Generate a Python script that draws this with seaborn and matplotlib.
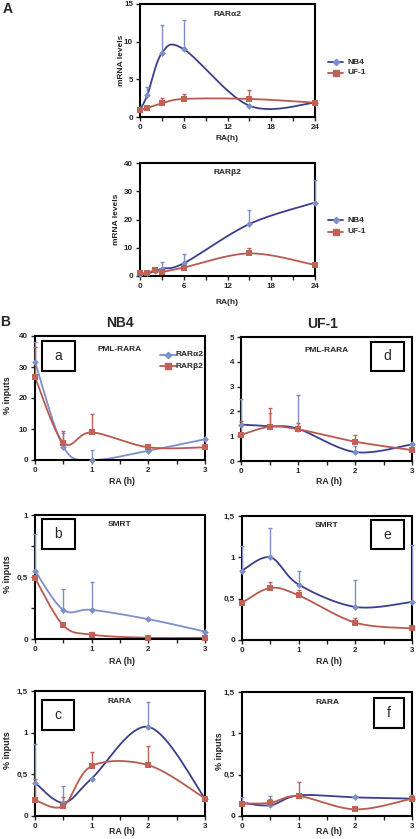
import numpy as np
import pandas as pd
import matplotlib
matplotlib.use("Agg")
import matplotlib.pyplot as plt
import seaborn as sns
from matplotlib.lines import Line2D
from matplotlib.patches import Rectangle

sns.set_style("ticks")
plt.rcParams['font.family'] = ['Liberation Sans', 'DejaVu Sans']

# ---------------- data ----------------
A_time = [0, 1, 3, 6, 15, 24]
A1_nb4 = [1.0, 2.9, 8.5, 9.0, 1.5, 1.9]
A1_nb4_err = [0, 1.1, 3.7, 3.9, 0, 0]
A1_uf1 = [0.9, 1.2, 1.8, 2.4, 2.4, 1.9]
A1_uf1_err = [0, 0, 0.7, 0.7, 1.2, 0]

A2_time = [0, 1, 2, 3, 6, 15, 24]
A2_nb4 = [0.6, 1.0, 1.6, 2.6, 4.5, 18.4, 26.0]
A2_nb4_err = [0, 0, 0, 2.2, 3.3, 5.1, 8.0]
A2_uf1 = [1.0, 1.0, 2.1, 1.5, 3.0, 8.0, 3.9]
A2_uf1_err = [0, 0, 0, 0, 0, 1.8, 1.2]

B_time = [0, 0.5, 1, 2, 3]
a_ra2 = [31.7, 4.3, 0.0, 3.0, 6.7]
a_ra2_err = [6.3, 4.3, 3.3, 0, 0]
a_rb2 = [26.7, 5.6, 8.9, 4.1, 4.1]
a_rb2_err = [9.8, 3.6, 6.1, 0, 0]

d_ra2 = [1.47, 1.40, 1.30, 0.36, 0.67]
d_ra2_err = [1.03, 0.55, 1.35, 0.25, 0]
d_rb2 = [1.05, 1.38, 1.28, 0.78, 0.44]
d_rb2_err = [0.55, 0.77, 0.27, 0.27, 0]

b_ra2 = [0.55, 0.235, 0.235, 0.16, 0.06]
b_ra2_err = [0.30, 0.165, 0.225, 0, 0]
b_rb2 = [0.49, 0.11, 0.035, 0.01, 0.01]
b_rb2_err = [0, 0, 0.02, 0, 0]

e_ra2 = [0.84, 1.0, 0.67, 0.40, 0.46]
e_ra2_err = [0.30, 0.36, 0.16, 0.32, 0.69]
e_rb2 = [0.45, 0.63, 0.54, 0.21, 0.14]
e_rb2_err = [0, 0.07, 0.06, 0.06, 0]

c_ra2 = [0.40, 0.16, 0.45, 1.07, 0.21]
c_ra2_err = [0.47, 0.20, 0, 0.30, 0]
c_rb2 = [0.19, 0.12, 0.60, 0.61, 0.21]
c_rb2_err = [0.25, 0.11, 0.17, 0.23, 0]

f_ra2 = [0.16, 0.13, 0.25, 0.225, 0.21]
f_ra2_err = [0.07, 0.11, 0, 0, 0.05]
f_rb2 = [0.15, 0.16, 0.24, 0.08, 0.21]
f_rb2_err = [0, 0.04, 0.17, 0, 0]

NAVY = "#3a3f8e"
LIGHT = "#7d8fc9"
RED = "#b85a4f"
REDM = "#bf6357"

W, H = 416, 839
fig = plt.figure(figsize=(W / 100, H / 100), dpi=100)


def add_ax(l, t, r, b):
    return fig.add_axes([l / W, 1 - b / H, (r - l) / W, (b - t) / H])


def smooth(x, y, n=40):
    P = np.column_stack([np.asarray(x, float), np.asarray(y, float)])
    Pp = np.vstack([P[0], P, P[-1]])
    out = []
    for i in range(len(P) - 1):
        p0, p1, p2, p3 = Pp[i], Pp[i + 1], Pp[i + 2], Pp[i + 3]
        c1 = p1 + (p2 - p0) / 6
        c2 = p2 - (p3 - p1) / 6
        t = np.linspace(0, 1, n)[:, None]
        seg = (1 - t) ** 3 * p1 + 3 * (1 - t) ** 2 * t * c1 + 3 * (1 - t) * t ** 2 * c2 + t ** 3 * p2
        out.append(seg if i == 0 else seg[1:])
    return np.vstack(out)


def series(ax, x, y, err, line_c, mk_c, marker, ms):
    cur = smooth(x, y)
    df = pd.DataFrame({'x': cur[:, 0], 'y': cur[:, 1]})
    sns.lineplot(data=df, x='x', y='y', ax=ax, color=line_c, lw=1.3,
                 sort=False, estimator=None)
    x = np.asarray(x, float); y = np.asarray(y, float); err = np.asarray(err, float)
    m = err > 0
    if m.any():
        ax.errorbar(x[m], y[m], yerr=[np.zeros(m.sum()), err[m]], fmt='none',
                    ecolor=mk_c, elinewidth=1.0, capsize=1.6, capthick=1.0,
                    clip_on=False, zorder=4)
    pts = pd.DataFrame({'x': x, 'y': y})
    sns.scatterplot(data=pts, x='x', y='y', ax=ax, marker=marker, s=ms,
                    color=mk_c, edgecolor=mk_c, linewidth=0, zorder=5,
                    clip_on=False)
    ax.set_xlabel('')
    ax.set_ylabel('')


def style(ax, xlim, ylim, xticks, xminor, yticks, ylabels):
    ax.set_xlim(*xlim)
    ax.set_ylim(*ylim)
    ax.set_xticks(xticks)
    ax.set_xticks(xminor, minor=True)
    ax.set_xticklabels([str(v) for v in xticks], fontsize=5.8, fontweight='bold')
    ax.set_yticks(yticks)
    ax.set_yticklabels(ylabels, fontsize=5.8, fontweight='bold')
    for s in ax.spines.values():
        s.set_visible(True)
        s.set_linewidth(1.5)
        s.set_color('black')
    ax.tick_params(axis='both', which='major', direction='out', length=3, width=1, pad=2)
    ax.tick_params(axis='x', which='minor', direction='out', length=3, width=1)


def ptitle(ax, txt, y):
    ax.text(0.5, y, txt, transform=ax.transAxes, ha='center', va='center',
            fontsize=6, fontweight='bold')


def letter_box(ax, x0, x1, y0, y1, txt):
    ax.add_patch(Rectangle((x0, y0), x1 - x0, y1 - y0, transform=ax.transAxes,
                           fill=False, lw=1.5, ec='black', zorder=6))
    ax.text((x0 + x1) / 2, (y0 + y1) / 2, txt, transform=ax.transAxes,
            ha='center', va='center', fontsize=10, zorder=7)


# ---------------- Panel A ----------------
axA1 = add_ax(140, 4, 315, 117)
series(axA1, A_time, A1_nb4, A1_nb4_err, NAVY, LIGHT, 'D', 12)
series(axA1, A_time, A1_uf1, A1_uf1_err, RED, REDM, 's', 22)
style(axA1, (0, 24), (0, 15), [0, 6, 12, 18, 24], [3, 9, 15, 21], [0, 5, 10, 15],
      ['0', '5', '10', '15'])
ptitle(axA1, 'RARα2', 0.91)

axA2 = add_ax(140, 163, 315, 276)
series(axA2, A2_time, A2_nb4, A2_nb4_err, NAVY, LIGHT, 'D', 12)
series(axA2, A2_time, A2_uf1, A2_uf1_err, RED, REDM, 's', 22)
style(axA2, (0, 24), (0, 40), [0, 6, 12, 18, 24], [3, 9, 15, 21], [0, 10, 20, 30, 40],
      ['0', '10', '20', '30', '40'])
ptitle(axA2, 'RARβ2', 0.92)

fig.text(121 / W, 1 - 60.5 / H, 'mRNA levels', rotation=90, ha='center', va='center',
         fontsize=6, fontweight='bold')
fig.text(117 / W, 1 - 219.5 / H, 'mRNA levels', rotation=90, ha='center', va='center',
         fontsize=6, fontweight='bold')
fig.text(227 / W, 1 - 138 / H, 'RA(h)', ha='center', va='center', fontsize=6, fontweight='bold')
fig.text(227 / W, 1 - 303 / H, 'RA(h)', ha='center', va='center', fontsize=6, fontweight='bold')


def legA(y_nb4, y_uf1):
    for yy, col, mc, mk, ms, lab in [(y_nb4, NAVY, LIGHT, 'D', 3.2, 'NB4'),
                                     (y_uf1, RED, REDM, 's', 4.5, 'UF-1')]:
        fig.add_artist(Line2D([328 / W, 343 / W], [1 - yy / H, 1 - yy / H], color=col, lw=1.3))
        fig.add_artist(Line2D([335.5 / W], [1 - yy / H], marker=mk, ms=ms, color=mc, mec=mc, lw=0))
        fig.text(347 / W, 1 - yy / H, lab, ha='left', va='center', fontsize=6, fontweight='bold')


legA(62, 72.5)
legA(220, 231.5)

fig.text(8 / W, 1 - 9 / H, 'A', ha='center', va='center', fontsize=10, fontweight='bold')
fig.text(5 / W, 1 - 322 / H, 'B', ha='center', va='center', fontsize=10, fontweight='bold')
fig.text(120 / W, 1 - 323 / H, 'NB4', ha='center', va='center', fontsize=10, fontweight='bold')
fig.text(323 / W, 1 - 324 / H, 'UF-1', ha='center', va='center', fontsize=10, fontweight='bold')

# ---------------- Panel B ----------------
bx = [0, 1, 2, 3]
bminor = [0.5, 1.5, 2.5]
specs = [
    ('a', (35, 336, 205, 460), a_ra2, a_ra2_err, a_rb2, a_rb2_err, LIGHT, (0, 40),
     [0, 10, 20, 30, 40], ['0', '10', '20', '30', '40'], 'PML-RARA', 0.895,
     (0.041, 0.235, 0.718, 0.96), 481.5),
    ('d', (241, 337, 412, 461), d_ra2, d_ra2_err, d_rb2, d_rb2_err, NAVY, (0, 5),
     [0, 1, 2, 3, 4, 5], ['0', '1', '2', '3', '4', '5'], 'PML-RARA', 0.895,
     (0.76, 0.953, 0.726, 0.96), 482),
    ('b', (35, 515, 205, 639), b_ra2, b_ra2_err, b_rb2, b_rb2_err, LIGHT, (0, 1),
     [0, 0.25, 0.5, 0.75, 1], ['0', '', '0,5', '', '1'], 'SMRT', 0.92,
     (0.041, 0.235, 0.726, 0.968), 661.5),
    ('e', (242, 516, 412, 640), e_ra2, e_ra2_err, e_rb2, e_rb2_err, NAVY, (0, 1.5),
     [0, 0.5, 1, 1.5], ['0', '0,5', '1', '1,5'], 'SMRT', 0.92,
     (0.76, 0.953, 0.73, 0.968), 662),
    ('c', (35, 691, 205, 816), c_ra2, c_ra2_err, c_rb2, c_rb2_err, NAVY, (0, 1.5),
     [0, 0.5, 1, 1.5], ['0', '0,5', '1', '1,5'], 'RARA', 0.915,
     (0.041, 0.229, 0.69, 0.93), 832),
    ('f', (242, 692, 412, 816), f_ra2, f_ra2_err, f_rb2, f_rb2_err, NAVY, (0, 1.5),
     [0, 0.5, 1, 1.5], ['0', '0,5', '1', '1,5'], 'RARA', 0.915,
     (0.776, 0.953, 0.71, 0.95), 832),
]

axes = {}
for (name, (l, t, r, b), ra2, ra2e, rb2, rb2e, bl, ylim, yt, yl, ttl, ty, lb, xly) in specs:
    ax = add_ax(l, t, r, b)
    axes[name] = ax
    series(ax, B_time, ra2, ra2e, bl, LIGHT, 'D', 12)
    series(ax, B_time, rb2, rb2e, RED, REDM, 's', 22)
    style(ax, (0, 3), ylim, bx, bminor, yt, yl)
    ptitle(ax, ttl, ty)
    letter_box(ax, lb[0], lb[1], lb[2], lb[3], name)
    fig.text((l + r) / 2 / W + 0.006, 1 - xly / H, 'RA (h)', ha='center', va='center',
             fontsize=6.3, fontweight='bold')

for name in ['a', 'b', 'c']:
    ax = axes[name]
    pos = ax.get_position()
    fig.text(7 / W, pos.y0 + pos.height / 2 + 0.004, '% inputs', rotation=90,
             ha='center', va='center', fontsize=6.5, fontweight='bold')
posf = axes['f'].get_position()
fig.text(220 / W, posf.y0 + posf.height / 2 + 0.004, '% inputs', rotation=90,
         ha='center', va='center', fontsize=6.5, fontweight='bold')

# legend in panel a
for yy, col, mc, mk, ms, lab in [(355, LIGHT, LIGHT, 'D', 3.2, 'RARα2'),
                                 (366, RED, REDM, 's', 4.5, 'RARβ2')]:
    fig.add_artist(Line2D([160 / W, 176 / W], [1 - yy / H, 1 - yy / H], color=col, lw=1.3))
    fig.add_artist(Line2D([168 / W], [1 - yy / H], marker=mk, ms=ms, color=mc, mec=mc, lw=0))
    fig.text(176 / W, 1 - yy / H, lab, ha='left', va='center', fontsize=6, fontweight='bold')

fig.savefig('out.png', dpi=100)
